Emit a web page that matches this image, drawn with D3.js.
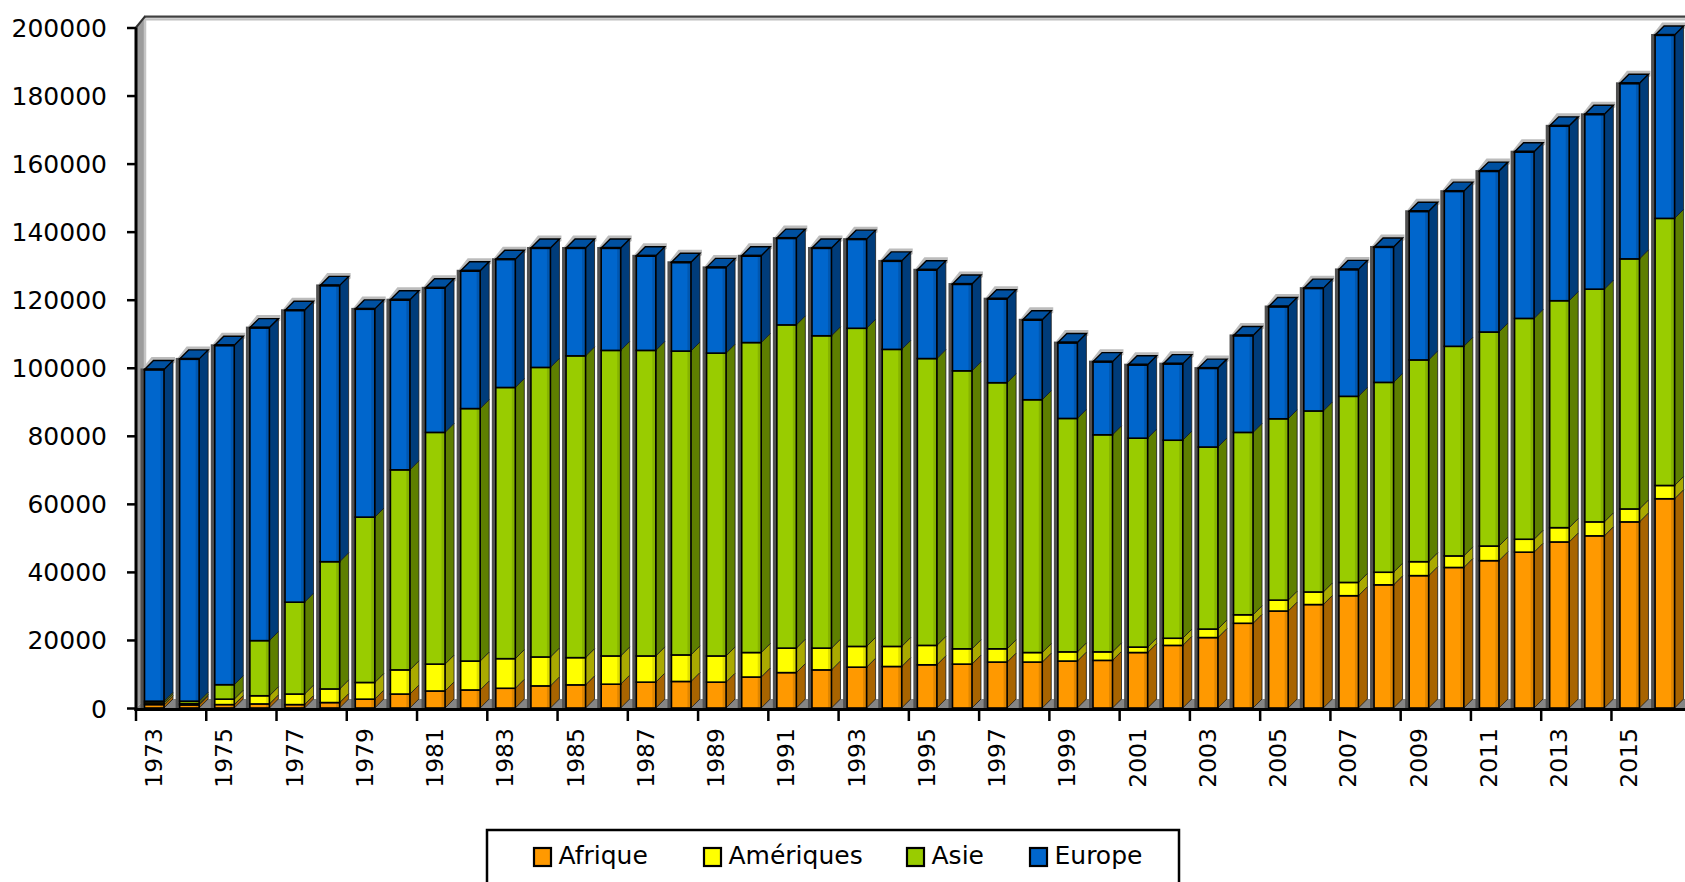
<!DOCTYPE html>
<html><head><meta charset="utf-8">
<script src="https://cdn.jsdelivr.net/npm/d3@7"></script>
<style>
body{margin:0;background:#fff;overflow:hidden}
svg{display:block}
text{font-family:"DejaVu Sans",Verdana,sans-serif;fill:#000}
</style>
</head><body>
<svg id="c" width="1685" height="882"></svg>
<script>
// ---------- DATA ----------
const years = ["1973","1974","1975","1976","1977","1978","1979","1980","1981","1982",
  "1983","1984","1985","1986","1987","1988","1989","1990","1991","1992",
  "1993","1994","1995","1996","1997","1998","1999","2000","2001","2002",
  "2003","2004","2005","2006","2007","2008","2009","2010","2011","2012",
  "2013","2014","2015","2016"];
const afrique = [1000,900,1000,1200,1000,1600,2600,4100,5000,5300,
  5800,6500,6800,7000,7600,7800,7600,9100,10400,11200,
  12000,12200,12700,12900,13500,13500,13800,14000,16300,18400,
  20700,24900,28500,30400,33000,36200,38900,41300,43300,45800,
  48800,50600,54700,61500];
const ameriques = [500,400,1600,2400,3100,4000,4900,7100,7900,8500,
  8700,8500,8000,8300,7700,7800,7700,7200,7200,6400,
  6100,5900,5700,4500,3900,2800,2700,2500,1600,2100,
  2500,2500,3200,3700,3900,3700,4100,3400,4300,3800,
  4200,4100,3800,3900];
const asie = [500,700,4250,16200,27000,37400,48600,58800,68100,74200,
  79700,85100,88700,89800,89800,89300,89000,91100,95000,91800,
  93500,87300,84300,81700,78200,74300,68600,63800,61400,58200,
  53500,53600,53300,53200,54700,55800,59300,61600,62900,64900,
  66700,68400,73500,78500];
const europe = [97500,100600,99750,92000,85800,81200,61200,50000,42500,40500,
  37700,35100,31700,30100,27800,26100,25200,25500,25500,25800,
  26200,26000,26100,25500,24700,23500,22300,21500,21600,22500,
  23200,28500,33000,36100,37300,39800,43700,45600,47300,49000,
  51400,51400,51600,53900];
const seriesNames = ["Afrique","Amériques","Asie","Europe"];
const yTicks = [0,20000,40000,60000,80000,100000,120000,140000,160000,180000,200000];
const xTickLabels = ["1973","1975","1977","1979","1981","1983","1985","1987","1989","1991",
  "1993","1995","1997","1999","2001","2003","2005","2007","2009","2011","2013","2015"];

// ---------- LAYOUT / STYLE ----------
const W = 1685, H = 882;
const L = {left:136, top:27.5, bottom:708, band:35.13, barOff:8.5, barW:19.5, dx:9, dy:9};
const frontC = ["#FF9900","#FFFF00","#99CC00","#0066CC"];
const stripC = ["#E08600","#E0E000","#86B300","#0057B0"];
const sideC  = ["#A86400","#AAAA00","#5E7F00","#003C7A"];
const topC   = ["#C87800","#CCCC00","#7AA300","#0050A0"];
const legendX = [534, 704, 907, 1030];

const svg = d3.select("#c");
const x = d3.scaleBand().domain(years).range([L.left, L.left + L.band*years.length]);
const y = d3.scaleLinear().domain([0,200000]).range([L.bottom, L.top]);

const table = years.map((yr,i)=>({year:yr, "Afrique":afrique[i], "Amériques":ameriques[i], "Asie":asie[i], "Europe":europe[i]}));
const stacked = d3.stack().keys(seriesNames)(table);

// ---------- WALLS ----------
const yTop = y(200000), y0 = y(0);
// left wall
svg.append("polygon")
  .attr("points", [[L.left,yTop],[L.left+L.dx,yTop-L.dy],[L.left+L.dx,y0-L.dy],[L.left,y0]].join(" "))
  .attr("fill","#9c9c9c");
svg.append("line").attr("x1",L.left+L.dx).attr("x2",L.left+L.dx).attr("y1",yTop-L.dy).attr("y2",y0-L.dy)
  .attr("stroke","#c4c4c4").attr("stroke-width",2.5);
// back wall top edge
svg.append("line").attr("x1",L.left+L.dx).attr("x2",W+10).attr("y1",yTop-L.dy+0.8).attr("y2",yTop-L.dy+0.8)
  .attr("stroke","#c0c0c0").attr("stroke-width",2.2);
svg.append("line").attr("x1",L.left+L.dx-1).attr("x2",W+10).attr("y1",yTop-L.dy-1.8).attr("y2",yTop-L.dy-1.8)
  .attr("stroke","#404040").attr("stroke-width",2.2);
svg.append("line").attr("x1",L.left).attr("y1",yTop).attr("x2",L.left+L.dx).attr("y2",yTop-L.dy-2)
  .attr("stroke","#303030").attr("stroke-width",2);
// floor
svg.append("polygon")
  .attr("points", [[L.left,y0],[L.left+L.dx,y0-L.dy],[W+20,y0-L.dy],[W+20,y0]].join(" "))
  .attr("fill","#858585");

// ---------- BARS ----------
const gBars = svg.append("g");
years.forEach((yr,i)=>{
  const bx = x(yr) + L.barOff, bw = L.barW;
  const total = stacked[stacked.length-1][i][1];
  const yt = y(total), yb = y(0);
  const g = gBars.append("g");
  // shadow on the wall
  g.append("polygon")
    .attr("points",[[bx-2,yt-1],[bx+L.dx-2,yt-L.dy-3.5],[bx+bw+L.dx+2,yt-L.dy-3.5],[bx+bw+L.dx+2,yt-L.dy+2],[bx+bw,yt]].join(" "))
    .attr("fill","#bcbcbc");
  g.append("rect").attr("x",bx-4).attr("y",yt-1).attr("width",4).attr("height",yb-yt+1).attr("fill","#505050");
  stacked.forEach((layer,k)=>{
    const v0 = layer[i][0], v1 = layer[i][1];
    if (v1 - v0 <= 0) return;
    const ya = y(v1), yz = y(v0);
    // side face
    g.append("polygon")
      .attr("points",[[bx+bw,ya],[bx+bw+L.dx,ya-L.dy],[bx+bw+L.dx,yz-L.dy],[bx+bw,yz]].join(" "))
      .attr("fill",sideC[k]).attr("stroke","#1a1a1a").attr("stroke-width",0.8);
    // front face
    g.append("rect").attr("x",bx).attr("y",ya).attr("width",bw).attr("height",yz-ya)
      .attr("fill",frontC[k]);
    g.append("rect").attr("x",bx+bw-3.5).attr("y",ya).attr("width",3.5).attr("height",yz-ya)
      .attr("fill",stripC[k]);
    g.append("rect").attr("x",bx).attr("y",ya).attr("width",bw).attr("height",yz-ya)
      .attr("fill","none").attr("stroke","#000").attr("stroke-width",1.6);
  });
  // top face
  g.append("polygon")
    .attr("points",[[bx,yt],[bx+L.dx,yt-L.dy],[bx+bw+L.dx,yt-L.dy],[bx+bw,yt]].join(" "))
    .attr("fill",topC[3]).attr("stroke","#000").attr("stroke-width",1.4);
  g.append("line").attr("x1",bx).attr("x2",bx+bw).attr("y1",yt).attr("y2",yt)
    .attr("stroke","#000").attr("stroke-width",2.4);
});

// ---------- AXES ----------
// y axis
const yAxis = d3.axisLeft(y).tickValues(yTicks).tickSize(9).tickPadding(20).tickFormat(d3.format("d"));
const gy = svg.append("g").attr("transform",`translate(${L.left},0)`).call(yAxis);
gy.select(".domain").remove();
gy.selectAll(".tick line").attr("stroke","#000").attr("stroke-width",2.5);
gy.selectAll(".tick text").attr("font-size",25).attr("font-family","DejaVu Sans").attr("fill","#000").attr("dy","0.36em");
svg.append("line").attr("x1",L.left).attr("x2",L.left).attr("y1",yTop).attr("y2",y0+3)
  .attr("stroke","#000").attr("stroke-width",3);
// x axis
svg.append("line").attr("x1",L.left-1.5).attr("x2",W+10).attr("y1",y0+1.5).attr("y2",y0+1.5)
  .attr("stroke","#000").attr("stroke-width",3);
const gx = svg.append("g");
xTickLabels.forEach(yr=>{
  gx.append("line").attr("x1",x(yr)).attr("x2",x(yr)).attr("y1",y0).attr("y2",y0+13)
    .attr("stroke","#000").attr("stroke-width",2.5);
  const cx = x(yr) + x.bandwidth()/2;
  gx.append("text").attr("transform",`translate(${cx},728) rotate(-90)`)
    .attr("text-anchor","end").attr("dy","0.36em").attr("font-size",23.5).text(yr);
});

// ---------- LEGEND ----------
svg.append("rect").attr("x",487).attr("y",830).attr("width",692).attr("height",70)
  .attr("fill","#fff").attr("stroke","#000").attr("stroke-width",2.5);
seriesNames.forEach((name,k)=>{
  const lx = legendX[k];
  svg.append("rect").attr("x",lx).attr("y",848).attr("width",17).attr("height",18)
    .attr("fill",frontC[k]).attr("stroke","#000").attr("stroke-width",2.2);
  svg.append("text").attr("x",lx+24.5).attr("y",864).attr("font-size",25).text(name);
});
</script>
</body></html>
